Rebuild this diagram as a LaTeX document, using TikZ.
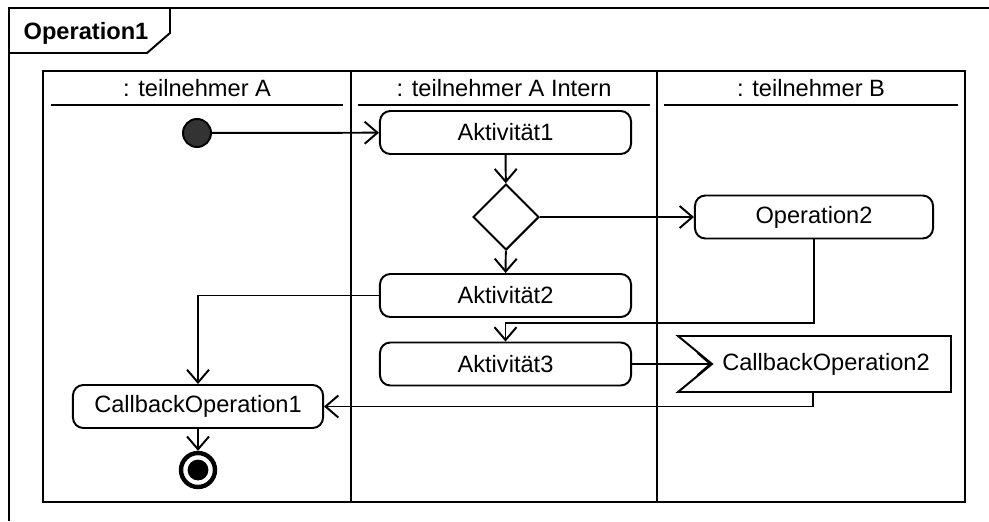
\documentclass[tikz,border=0pt]{standalone}
\usepackage{fontspec}
\setmainfont{Liberation Sans}
\usetikzlibrary{positioning,shapes.geometric,arrows.meta}
\tikzset{every node/.style={font=\fontsize{16.8}{19}\selectfont, inner sep=0pt}}
\tikzset{aktion/.style={draw, rectangle, rounded corners=2.6mm, minimum width=6.275cm, minimum height=1.075cm}}
\tikzset{entscheidung/.style={draw, diamond, aspect=1, minimum width=1.65cm, minimum height=1.65cm}}
\tikzset{startknoten/.style={draw, circle, fill=black!80, minimum size=7mm}}
\tikzset{endknoten/.style={draw, circle, line width=1.1mm, minimum size=8.5mm,
  path picture={\fill (path picture bounding box.center) circle (2.6mm);}}}
\tikzset{bahn/.style={line width=1.8pt}}

\begin{document}
\begin{tikzpicture}[x=0.025cm, y=-0.025cm, line width=1.4pt, >={Straight Barb[length=3.2mm,width=5.5mm]}]
\useasboundingbox (0,0) rectangle (989,521);
% Rahmen
\draw (9,521) -- (9,8) -- (989,8);
\draw (9,53) -- (147,53) -- (170,33) -- (170,8);
\node (R0) at (86,33) {\bfseries Operation1};
% Bahnen
\draw[bahn] (43,71) rectangle (965,502);
\draw[bahn] (351,71) -- (351,502);
\draw[bahn] (657,71) -- (657,502);
\draw[bahn] (51,105) -- (343,105);
\draw[bahn] (358,105) -- (650,105);
\draw[bahn] (664,105) -- (958,105);
\node (B0) at (197,88) {: teilnehmer A};
\node (B1) at (504,88) {: teilnehmer A Intern};
\node (B2) at (811,88) {: teilnehmer B};
% Knoten
\node[startknoten] (S0) at (197,133) {};
\node[aktion] (A1) at (505.5,132.5) {Aktivität1};
\node[entscheidung] (D0) at (506,217) {};
\node[aktion, minimum width=5.95cm] (O2) at (814,217) {Operation2};
\node[aktion] (A2) at (505.5,295.5) {Aktivität2};
\node[aktion] (A3) at (505.5,364) {Aktivität3};
\node (C2) at (826,364) {CallbackOperation2};
\node[aktion, minimum width=6.25cm] (C1) at (198,406.5) {CallbackOperation1};
\node[endknoten] (E0) at (198,470) {};
\coordinate (C2in) at (712,364);
\coordinate (C2out) at (813,392);
\coordinate (K0) at (814,323);
\draw (678,336) -- (951,336) -- (951,392) -- (678,392) -- (C2in) -- cycle;
% Kanten
\draw[->] (S0) -- (A1);
\draw[->] (A1) -- (D0);
\draw[->] (D0) -- (O2);
\draw[->] (D0) -- (A2);
\draw[->] (O2.south) -- (K0) -| (A3);
\draw[->] (A2.west) -| (C1);
\draw[->] (A3) -- (C2in);
\draw[->] (C2out) |- (C1);
\draw[->] (C1) -- (E0);
\end{tikzpicture}
\end{document}
